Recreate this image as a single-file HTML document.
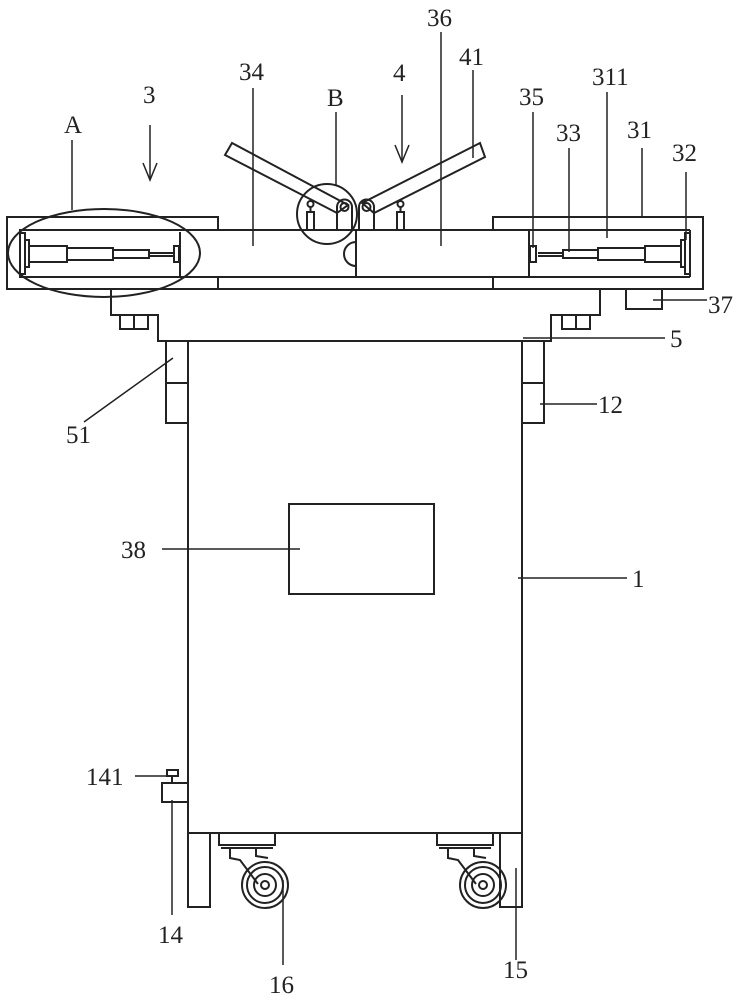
<!DOCTYPE html>
<html><head><meta charset="utf-8"><style>
html,body{margin:0;padding:0;background:#fff;}
svg{display:block;}
text{font-family:"Liberation Serif","DejaVu Serif",serif;font-size:25px;fill:#222;}
</style></head><body>
<svg width="742" height="1000" viewBox="0 0 742 1000" xmlns="http://www.w3.org/2000/svg">
<g fill="none" stroke="#222" stroke-width="2">
<!-- left frame -->
<rect x="7" y="217" width="211" height="72"/>
<!-- right frame -->
<rect x="493" y="217" width="210" height="72"/>
<!-- bars -->
<rect x="20" y="230" width="336" height="47" fill="#fff"/>
<rect x="356" y="230" width="173" height="47" fill="#fff"/>
<line x1="493" y1="230" x2="690" y2="230"/>
<line x1="493" y1="277" x2="690" y2="277"/>
<line x1="690" y1="230" x2="690" y2="277"/>
<line x1="218" y1="289" x2="493" y2="289"/>
<line x1="218" y1="277" x2="493" y2="277"/>
<!-- half circle -->
<path d="M356 242 A12 12 0 0 0 356 266"/>
<!-- left cylinder -->
<rect x="20" y="233" width="5" height="41"/>
<rect x="25" y="240" width="4" height="27"/>
<rect x="29" y="246" width="38" height="16"/>
<rect x="67" y="248" width="46" height="12"/>
<rect x="113" y="250" width="36" height="8"/>
<line x1="149" y1="253" x2="174" y2="253"/><line x1="149" y1="256" x2="174" y2="256"/>
<rect x="174" y="246" width="5" height="16"/>
<line x1="180" y1="232" x2="180" y2="276"/>
<!-- right cylinder -->
<rect x="685" y="233" width="5" height="41"/>
<rect x="681" y="240" width="4" height="27"/>
<rect x="645" y="246" width="36" height="16"/>
<rect x="598" y="248" width="47" height="12"/>
<rect x="563" y="250" width="35" height="8"/>
<line x1="538" y1="253" x2="563" y2="253"/><line x1="538" y1="256" x2="563" y2="256"/>
<rect x="530" y="246" width="6" height="16"/>
<!-- ellipse A -->
<ellipse cx="104" cy="253" rx="96" ry="44"/>
<!-- arms -->
<polygon points="225,155 232,143 348,205 337,213" fill="#fff"/>
<polygon points="362,203 480,143 485,157 374,213" fill="#fff"/>
<path d="M337 230 V207 A7.5 7.5 0 0 1 352 207 V230"/>
<circle cx="344.5" cy="207" r="4"/>
<path d="M359 230 V207 A7.5 7.5 0 0 1 374 207 V230"/>
<circle cx="366.5" cy="207" r="4"/>
<rect x="307" y="212" width="7" height="18"/><circle cx="310.5" cy="204" r="3"/><line x1="310.5" y1="207" x2="310.5" y2="212"/>
<rect x="397" y="212" width="7" height="18"/><circle cx="400.5" cy="204" r="3"/><line x1="400.5" y1="207" x2="400.5" y2="212"/>
<circle cx="327" cy="214" r="30"/>
<!-- base plate -->
<path d="M111 289 V315 H158 V341 H551 V315 H600 V289"/>
<rect x="120" y="315" width="14" height="14"/><rect x="134" y="315" width="14" height="14"/>
<rect x="562" y="315" width="14" height="14"/><rect x="576" y="315" width="14" height="14"/>
<rect x="626" y="289" width="36" height="20"/>
<!-- body -->
<rect x="188" y="341" width="334" height="492"/>
<rect x="166" y="341" width="22" height="82"/><line x1="166" y1="383" x2="188" y2="383"/>
<rect x="522" y="341" width="22" height="82"/><line x1="522" y1="383" x2="544" y2="383"/>
<rect x="289" y="504" width="145" height="90"/>
<!-- legs -->
<rect x="188" y="833" width="22" height="74"/>
<rect x="500" y="833" width="22" height="74"/>
<!-- handle 14 -->
<rect x="162" y="783" width="26" height="19"/>
<rect x="167" y="770" width="11" height="6"/><line x1="172" y1="776" x2="172" y2="783"/>
<!-- casters -->
<g id="c1">
<rect x="219" y="833" width="56" height="12"/>
<line x1="221" y1="848" x2="273" y2="848"/>
<path d="M230 848 V858 L240 860 L258 884 M256 848 V856 L268 858"/>
<circle cx="265" cy="885" r="23"/><circle cx="265" cy="885" r="18"/><circle cx="265" cy="885" r="11"/><circle cx="265" cy="885" r="4"/>
</g>
<use href="#c1" transform="translate(218,0)"/>
</g>
<!-- leaders -->
<g stroke="#222" stroke-width="1.5" fill="none">
<line x1="72" y1="140" x2="72" y2="210"/>
<line x1="150" y1="125" x2="150" y2="180"/><path d="M143 163 L150 180 L157 163"/>
<line x1="402" y1="95" x2="402" y2="162"/><path d="M395 145 L402 162 L409 145"/>
<line x1="253" y1="88" x2="253" y2="246"/>
<line x1="336" y1="112" x2="336" y2="186"/>
<line x1="441" y1="32" x2="441" y2="246"/>
<line x1="473" y1="70" x2="473" y2="158"/>
<line x1="533" y1="112" x2="533" y2="248"/>
<line x1="607" y1="92" x2="607" y2="238"/>
<line x1="569" y1="148" x2="569" y2="252"/>
<line x1="642" y1="148" x2="642" y2="218"/>
<line x1="686" y1="172" x2="686" y2="240"/>
<line x1="653" y1="300" x2="707" y2="300"/>
<line x1="523" y1="338" x2="665" y2="338"/>
<line x1="540" y1="404" x2="597" y2="404"/>
<line x1="84" y1="422" x2="173" y2="358"/>
<line x1="162" y1="549" x2="300" y2="549"/>
<line x1="518" y1="578" x2="627" y2="578"/>
<line x1="135" y1="776" x2="167" y2="776"/>
<line x1="172" y1="800" x2="172" y2="915"/>
<line x1="283" y1="880" x2="283" y2="965"/>
<line x1="516" y1="868" x2="516" y2="960"/>
</g>
<text x="64" y="133">A</text>
<text x="143" y="103">3</text>
<text x="239" y="80">34</text>
<text x="327" y="106">B</text>
<text x="393" y="81">4</text>
<text x="427" y="26">36</text>
<text x="459" y="65">41</text>
<text x="519" y="105">35</text>
<text x="592" y="85">311</text>
<text x="556" y="141">33</text>
<text x="627" y="138">31</text>
<text x="672" y="161">32</text>
<text x="708" y="313">37</text>
<text x="670" y="347">5</text>
<text x="598" y="413">12</text>
<text x="66" y="443">51</text>
<text x="121" y="558">38</text>
<text x="632" y="587">1</text>
<text x="86" y="785">141</text>
<text x="158" y="943">14</text>
<text x="269" y="993">16</text>
<text x="503" y="978">15</text>
</svg>
</body></html>
